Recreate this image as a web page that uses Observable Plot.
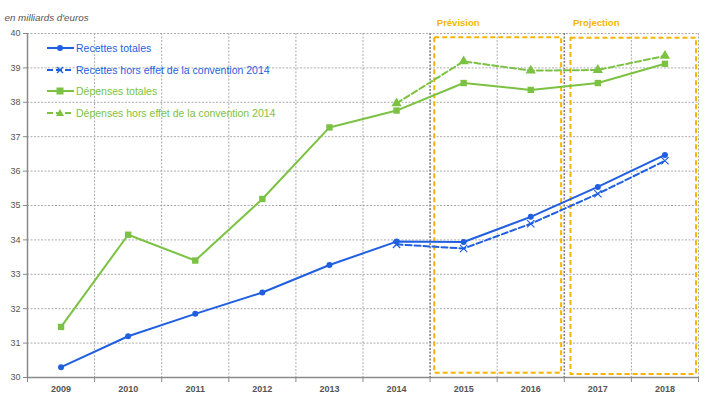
<!DOCTYPE html>
<html><head><meta charset="utf-8">
<script src="https://cdn.jsdelivr.net/npm/d3@7"></script>
<script src="https://cdn.jsdelivr.net/npm/@observablehq/plot@0.6"></script>
<style>
body{margin:0;background:#fff;font-family:"Liberation Sans",Arial,sans-serif;}
#wrap{position:relative;width:711px;height:398px;}
#legend{position:absolute;left:47px;top:40px;font-size:10.5px;}
.item{position:absolute;left:0;white-space:nowrap;display:flex;align-items:center;height:16px;}
.item svg{margin-right:2px;}
</style></head><body>
<div id="wrap"><div id="legend"></div></div>
<script>
const years = [2009, 2010, 2011, 2012, 2013, 2014, 2015, 2016, 2017, 2018];
const recettesTotales = [30.3, 31.2, 31.85, 32.47, 33.27, 33.95, 33.94, 34.67, 35.54, 36.47];
const horsYears = [2014, 2015, 2016, 2017, 2018];
const recettesHors = [33.87, 33.75, 34.47, 35.34, 36.3];
const depensesTotales = [31.47, 34.15, 33.4, 35.19, 37.27, 37.76, 38.56, 38.36, 38.56, 39.12];
const depensesHors = [37.97, 39.19, 38.92, 38.94, 39.35];
const yTicks = [30, 31, 32, 33, 34, 35, 36, 37, 38, 39, 40];
const seriesNames = ["Recettes totales", "Recettes hors effet de la convention 2014", "Dépenses totales", "Dépenses hors effet de la convention 2014"];
const zoneLabels = ["Prévision", "Projection"];
const zones = [{label: zoneLabels[0], x1: 2014.57, x2: 2016.46, y1: 30.12, y2: 39.88},
               {label: zoneLabels[1], x1: 2016.6, x2: 2018.47, y1: 30.09, y2: 39.86}];
const unitLabel = "en milliards d'euros";

const blue = "#1f5fe0", green = "#7cc242", yellow = "#f5b500", grid = "#ababab", axisCol = "#8a8a8a";

const rt = years.map((y, i) => ({year: y, v: recettesTotales[i]}));
const rh = horsYears.map((y, i) => ({year: y, v: recettesHors[i]}));
const dt = years.map((y, i) => ({year: y, v: depensesTotales[i]}));
const dh = horsYears.map((y, i) => ({year: y, v: depensesHors[i]}));
const bounds = years.slice(0, -1).map(y => y + 0.5);
const lightBounds = bounds.filter(b => b !== 2014.5 && b !== 2016.5);

const chart = Plot.plot({
  width: 711, height: 398,
  marginTop: 33, marginBottom: 21, marginLeft: 27, marginRight: 13,
  style: {fontFamily: "'Liberation Sans', Arial, sans-serif", background: "#fff"},
  x: {domain: [2008.5, 2018.5]},
  y: {domain: [30, 40]},
  marks: [
    Plot.ruleY(yTicks.filter(t => t > 30), {stroke: grid, strokeDasharray: "2,1.5", strokeWidth: 1}),
    Plot.ruleX(lightBounds, {stroke: grid, strokeDasharray: "2,1.5", strokeWidth: 1}),
    Plot.ruleX([2018.5], {stroke: grid, strokeDasharray: "2,1.5", strokeWidth: 1}),
    Plot.ruleX([2014.5, 2016.5], {stroke: "#808080", strokeDasharray: "2,1.5", strokeWidth: 1.6}),
    Plot.rect(zones, {x1: "x1", x2: "x2", y1: "y1", y2: "y2", fill: "none", stroke: yellow, strokeWidth: 2, strokeDasharray: "5,3"}),
    Plot.text(zones, {x: "x1", y: 40, text: "label", dy: -11, dx: 2, textAnchor: "start", fill: yellow, fontWeight: "bold", fontSize: 9.5}),
    Plot.ruleY([30], {stroke: axisCol, strokeWidth: 1.5}),
    Plot.ruleX([2008.5], {stroke: axisCol, strokeWidth: 1.5}),
    Plot.axisY({ticks: yTicks, tickSize: 4, tickPadding: 3, fontSize: 9, color: "#555", stroke: axisCol, label: null}),
    Plot.axisX({ticks: [2008.5, ...bounds, 2018.5], tickSize: 5, tickFormat: () => "", stroke: axisCol, label: null}),
    Plot.axisX({ticks: years, tickSize: 0, tickPadding: 8, tickFormat: d => String(d), fontSize: 9, fontWeight: "bold", fill: "#555", label: null}),
    Plot.line(dt, {x: "year", y: "v", stroke: green, strokeWidth: 2}),
    Plot.dot(dt, {x: "year", y: "v", symbol: "square", r: 3.6, fill: green}),
    Plot.line(dh, {x: "year", y: "v", stroke: green, strokeWidth: 2, strokeDasharray: "6,3"}),
    Plot.dot(dh, {x: "year", y: "v", symbol: "triangle", r: 3.8, fill: green}),
    Plot.line(rh, {x: "year", y: "v", stroke: blue, strokeWidth: 2, strokeDasharray: "6,3"}),
    Plot.dot(rh, {x: "year", y: "v", symbol: "times", r: 3.4, stroke: blue, strokeWidth: 1.2}),
    Plot.line(rt, {x: "year", y: "v", stroke: blue, strokeWidth: 2}),
    Plot.dot(rt, {x: "year", y: "v", symbol: "circle", r: 3, fill: blue}),
    Plot.text([unitLabel], {frameAnchor: "top-left", dx: -23, dy: -19, fontStyle: "italic", fontSize: 9.8, fill: "#555", textAnchor: "start"})
  ]
});
document.getElementById("wrap").prepend(chart);

const legendDefs = [
  {name: seriesNames[0], color: blue, dash: null, sym: "circle"},
  {name: seriesNames[1], color: blue, dash: "6,3", sym: "times"},
  {name: seriesNames[2], color: green, dash: null, sym: "square"},
  {name: seriesNames[3], color: green, dash: "6,3", sym: "triangle"}
];
const leg = document.getElementById("legend");
legendDefs.forEach((d, i) => {
  const div = document.createElement("div");
  div.className = "item";
  div.style.top = (i * 21.7) + "px";
  div.style.color = d.color;
  let marker = "";
  if (d.sym === "circle") marker = `<circle cx="13" cy="8" r="3" fill="${d.color}"/>`;
  if (d.sym === "square") marker = `<rect x="9.5" y="4.5" width="7" height="7" fill="${d.color}"/>`;
  if (d.sym === "triangle") marker = `<path d="M13,4 L17,11 L9,11 Z" fill="${d.color}"/>`;
  if (d.sym === "times") marker = `<path d="M10,5 L16,11 M16,5 L10,11" stroke="${d.color}" stroke-width="1.4"/>`;
  div.innerHTML = `<svg width="27" height="16"><line x1="0" x2="27" y1="8" y2="8" stroke="${d.color}" stroke-width="2" ${d.dash ? `stroke-dasharray="${d.dash}"` : ""}/>${marker}</svg><span>${d.name}</span>`;
  leg.appendChild(div);
});
</script>
</body></html>
